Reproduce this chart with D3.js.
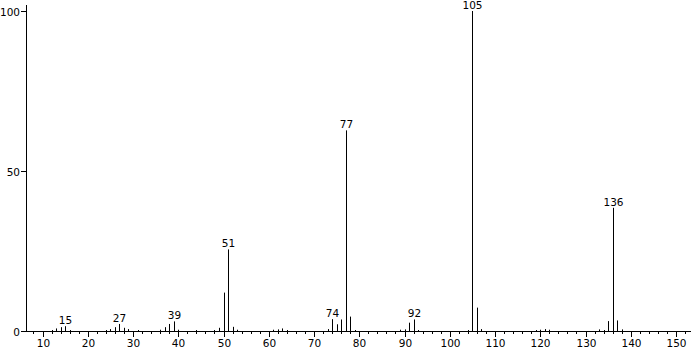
<!DOCTYPE html>
<html><head><meta charset="utf-8">
<script src="https://cdn.jsdelivr.net/npm/d3@7"></script>
<style>body{margin:0;background:#fff}svg{display:block}text{font-family:"DejaVu Sans",sans-serif;font-size:10.5px;fill:#000}</style>
</head><body><svg id="c" width="692" height="350"></svg>
<script>
const mz =        [12,13,14,15,16,24,25,26,27,28,29,31,36,37,38,39,40,44,48,49,50,51,52,53,61,62,63,64,73,74,75,76,77,78,79,89,90,91,92,93,104,105,106,107,119,120,121,122,133,134,135,136,137,138];
const intensity = [0.3,0.8,1.2,1.5,0.3,0.3,0.6,1.2,2.2,1,0.6,0.3,0.4,1.2,2.2,3,0.4,0.3,0.3,1,12,25.5,1.3,0.4,0.4,0.5,0.8,0.3,0.6,3.7,2.1,3.6,62.7,4.5,0.3,0.4,0.5,2.6,3.6,0.3,0.3,100,7.3,0.6,0.3,0.4,0.6,0.4,0.5,0.3,3.1,38.5,3.3,0.5];
const labelled = [15,27,39,51,74,77,92,105,136];
const xTicks = [10,20,30,40,50,60,70,80,90,100,110,120,130,140,150];
const yTicks = [0,50,100];

const svg = d3.select("#c");
const x = d3.scaleLinear().domain([10,150]).range([42.5,676]);
const y = d3.scaleLinear().domain([0,100]).range([331,11]);

svg.append("line").attr("x1",26.5).attr("x2",26.5).attr("y1",5).attr("y2",331.5).attr("stroke","#000");
svg.append("line").attr("x1",26).attr("x2",691).attr("y1",331.5).attr("y2",331.5).attr("stroke","#000");

yTicks.forEach(t=>{
  const yy=Math.round(y(t))+0.5;
  svg.append("line").attr("x1",21).attr("x2",26).attr("y1",yy).attr("y2",yy).attr("stroke","#000");
  svg.append("text").attr("x",20).attr("y",yy+4).attr("text-anchor","end").text(t);
});
d3.range(8,153,2).forEach(t=>{
  if (x(t)<27||x(t)>690) return;
  const xx=Math.round(x(t))+0.5;
  const major = t%10===0;
  svg.append("line").attr("x1",xx).attr("x2",xx).attr("y1",331).attr("y2",major?337:334).attr("stroke","#000");
});
xTicks.forEach(t=>{
  svg.append("text").attr("x",Math.round(x(t))+0.5).attr("y",347).attr("text-anchor","middle").text(t);
});

const data = mz.map((m,i)=>({m, v:intensity[i]}));
svg.selectAll("line.pk").data(data).enter().append("line").attr("class","pk")
  .attr("x1",d=>Math.round(x(d.m))+0.5).attr("x2",d=>Math.round(x(d.m))+0.5)
  .attr("y1",331).attr("y2",d=>y(d.v)).attr("stroke","#000").attr("stroke-width",1);

svg.selectAll("text.lb").data(data.filter(d=>labelled.includes(d.m))).enter().append("text").attr("class","lb")
  .attr("x",d=>Math.round(x(d.m))+0.5).attr("y",d=>Math.max(9,y(d.v)-2)).attr("text-anchor","middle").text(d=>d.m);
</script></body></html>
